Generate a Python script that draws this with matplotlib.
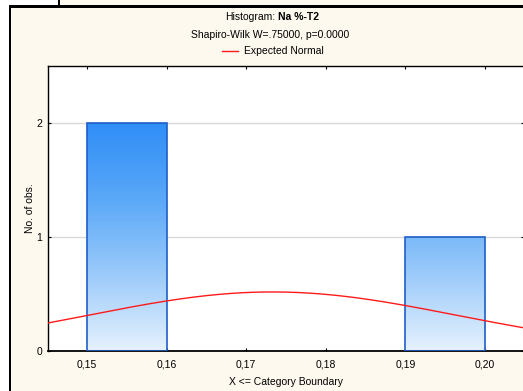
import matplotlib
matplotlib.use("Agg")
import matplotlib.pyplot as plt
import numpy as np
from matplotlib.patches import Rectangle
from matplotlib.colors import LinearSegmentedColormap

# histogram data
bin_left = [0.15, 0.19]
bin_width = 0.01
counts = [2, 1]
# fitted normal
n_obs = 3
fit_mean = 0.1733
fit_sd = 0.0231

x_ticks = [0.15, 0.16, 0.17, 0.18, 0.19, 0.20]
x_tick_labels = ["0,15", "0,16", "0,17", "0,18", "0,19", "0,20"]
y_ticks = [0, 1, 2]

W, H = 523, 391
fig = plt.figure(figsize=(W / 100, H / 100), dpi=100, facecolor="white")
plt.rcParams["font.family"] = ["Liberation Sans", "DejaVu Sans"]

def px_rect(x0, y0, x1, y1, color):
    # rectangle given in pixel coords (top-left origin)
    fig.patches.append(Rectangle((x0 / W, 1 - y1 / H), (x1 - x0) / W, (y1 - y0) / H,
                                 transform=fig.transFigure, facecolor=color,
                                 edgecolor="none", zorder=-5))

cream = "#fdf9ef"
px_rect(11, 8, W, H, cream)
px_rect(60, 0, W, 5, cream)
px_rect(58, 0, 60, 6, "black")
px_rect(9, 5, W, 8, "black")
px_rect(9, 5, 11, H, "black")

ax = fig.add_axes([48 / W, (H - 351) / H, (524 - 48) / W, (351 - 66) / H])
ax.set_facecolor("white")
ax.set_xlim(0.1451, 0.2049)
ax.set_ylim(0, 2.5)

cmap = LinearSegmentedColormap.from_list("bar", ["#e6f2fe", "#9ccbfa", "#5aa8f8", "#2f8ef6"])
grad = np.linspace(0, 1, 256).reshape(-1, 1)
for left, c in zip(bin_left, counts):
    im = ax.imshow(grad[: int(256 * c / 2)], cmap=cmap, vmin=0, vmax=1, origin="lower",
                   extent=(left, left + bin_width, 0, c), aspect="auto", zorder=2)
    rect = Rectangle((left, 0), bin_width, c, facecolor="none", edgecolor="#1f5fc9",
                     linewidth=1.2, zorder=3)
    ax.add_patch(rect)
    im.set_clip_path(rect)

xs = np.linspace(0.1451, 0.2049, 300)
ys = n_obs * bin_width * np.exp(-0.5 * ((xs - fit_mean) / fit_sd) ** 2) / (fit_sd * np.sqrt(2 * np.pi))
ax.plot(xs, ys, color="#ff1a1a", linewidth=1.0, zorder=4)

ax.set_xticks(x_ticks)
ax.set_xticklabels(x_tick_labels)
ax.set_yticks(y_ticks)
ax.grid(axis="y", color="#d9d9d9", linewidth=1.0, zorder=1)
ax.set_axisbelow(True)
ax.tick_params(direction="in", length=2, width=0.8, labelsize=7.5, colors="black",
               top=True, right=True, pad=6)
ax.tick_params(axis="y", pad=4)
for s in ax.spines.values():
    s.set_color("black")
    s.set_linewidth(1.0)
ax.spines["bottom"].set_linewidth(1.3)

ax.set_xlabel("X <= Category Boundary", fontsize=7.5, va="center")
ax.xaxis.set_label_coords(0.5, -(382 - 351) / 285)
ax.set_ylabel("No. of obs.", fontsize=7.5, va="center")
ax.yaxis.set_label_coords(-(48 - 30) / 476, 0.5)

fig.text(275 / W, 1 - 17 / H, "Histogram:", ha="right", va="center", fontsize=7.5)
fig.text(278 / W, 1 - 17 / H, "Na %-T2", ha="left", va="center", fontsize=7.5, fontweight="bold")
fig.text(270 / W, 1 - 35 / H, "Shapiro-Wilk W=.75000, p=0.0000", ha="center", va="center", fontsize=7.5)
fig.lines.append(plt.Line2D([222 / W, 238 / W], [1 - 51 / H] * 2, transform=fig.transFigure,
                            color="#ff1a1a", linewidth=1.0))
fig.text(244 / W, 1 - 51 / H, "Expected Normal", ha="left", va="center", fontsize=7.5)

fig.savefig("out.png", dpi=100, facecolor=fig.get_facecolor())
